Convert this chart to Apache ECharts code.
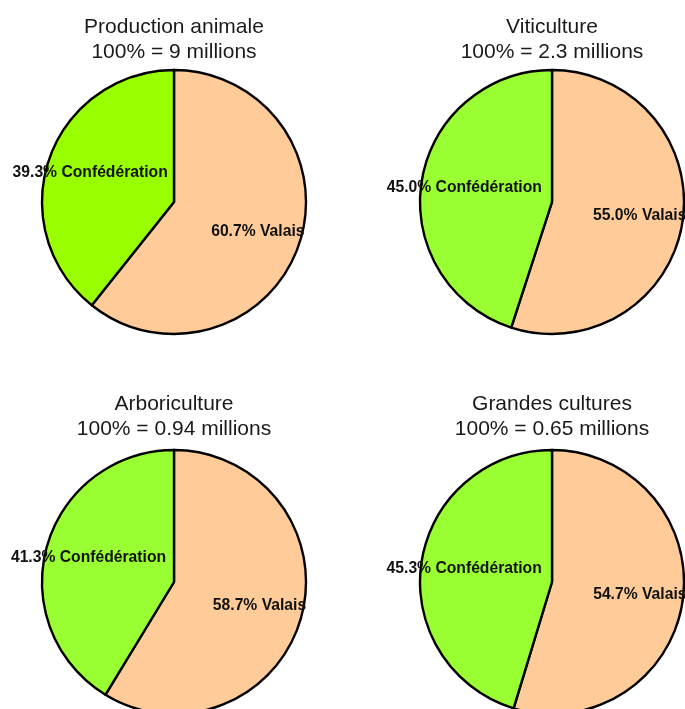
<!DOCTYPE html>
<html>
<head>
<meta charset="utf-8">
<script src="https://cdn.jsdelivr.net/npm/echarts@6/dist/echarts.min.js"></script>
<style>html,body{margin:0;padding:0;background:#fff}#c{width:685px;height:709px}</style>
</head>
<body>
<div id="c"></div>
<script>
const categories = ['Valais', 'Confédération'];
const panelTitles = ['Production animale', 'Viticulture', 'Arboriculture', 'Grandes cultures'];
const totals = ['9', '2.3', '0.94', '0.65'];
const valaisShare = [60.7, 55.0, 58.7, 54.7];
const confedShare = [39.3, 45.0, 41.3, 45.3];
const greenColors = ['#99FF00', '#99FF33', '#99FF33', '#99FF33'];
const peach = '#FFCC99';

const centers = [[174, 202], [552, 202], [174, 582], [552, 582]];
const titleTops = [14.5, 14.5, 392, 392];
const R = 132;
const font = '"Liberation Sans", Arial, sans-serif';

const chart = echarts.init(document.getElementById('c'), null, {renderer: 'canvas'});
const series = [];
const titles = [];
for (let i = 0; i < 4; i++) {
  const data = [
    {name: categories[0], value: valaisShare[i], itemStyle: {color: peach}},
    {name: categories[1], value: confedShare[i], itemStyle: {color: greenColors[i]}}
  ];
  titles.push({
    text: panelTitles[i] + '\n100% = ' + totals[i] + ' millions',
    left: centers[i][0], top: titleTops[i], textAlign: 'center', padding: 0,
    textStyle: {fontFamily: font, fontSize: 21, fontWeight: 'normal', color: '#1a1a1a', lineHeight: 25}
  });
  series.push({
    type: 'pie', center: centers[i], radius: [0, R], startAngle: 90, clockwise: true,
    silent: true, animation: false, label: {show: false}, labelLine: {show: false},
    itemStyle: {borderColor: '#000', borderWidth: 2.4},
    emphasis: {disabled: true},
    data: data
  });
  series.push({
    type: 'pie', center: centers[i], radius: [R * 0.3, R], startAngle: 90, clockwise: true,
    silent: true, animation: false, z: 5,
    itemStyle: {color: 'rgba(0,0,0,0)', borderWidth: 0},
    label: {show: true, position: 'inside', fontFamily: font, fontSize: 15.7, fontWeight: 'bold', color: '#111',
      formatter: p => p.value.toFixed(1) + '% ' + p.name},
    labelLine: {show: false},
    emphasis: {disabled: true},
    data: data.map(d => ({name: d.name, value: d.value}))
  });
}
chart.setOption({animation: false, backgroundColor: '#fff', title: titles, series: series});
</script>
</body>
</html>
